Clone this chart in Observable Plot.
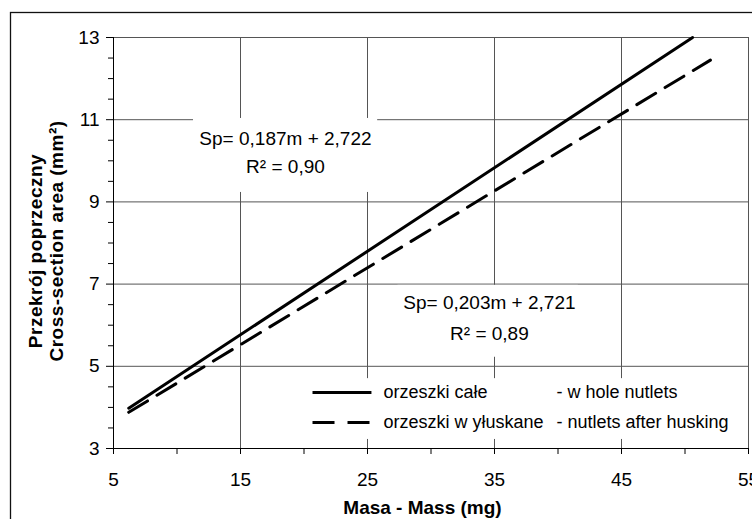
<!DOCTYPE html>
<html><head><meta charset="utf-8">
<script src="https://cdn.jsdelivr.net/npm/d3@7"></script>
<script src="https://cdn.jsdelivr.net/npm/@observablehq/plot@0.6"></script>
<style>
html,body{margin:0;padding:0;background:#fff;}
#chart{position:relative;width:752px;height:519px;overflow:hidden;}
</style></head><body><div id="chart"></div>
<script>
// ---- data ----
const massWhole = [6.2, 50.6];      // solid line (orzeszki całe)
const areaWhole = [3.98, 13.0];
const massHusked = [6.2, 52.0];     // dashed line (orzeszki wyłuskane)
const areaHusked = [3.88, 12.45];
const xTicks = [5, 15, 25, 35, 45, 55];
const xMinorTicks = [10, 20, 30, 40, 50];
const yTicks = [3, 5, 7, 9, 11, 13];
const yMinorTicks = [3.5, 4, 4.5, 5.5, 6, 6.5, 7.5, 8, 8.5, 9.5, 10, 10.5, 11.5, 12, 12.5];
const eqWhole = ["Sp= 0,203m + 2,721", "R² = 0,89"];
const eqHusked = ["Sp= 0,187m + 2,722", "R² = 0,90"];
const legendPolish = ["orzeszki całe", "orzeszki w yłuskane"];
const legendEnglish = ["- w hole nutlets", "- nutlets after husking"];
const xTitle = "Masa - Mass (mg)";
const yTitle = ["Przekrój poprzeczny", "Cross-section area (mm²)"];

// ---- layout (data units) ----
const eqPos = [{x: 18.54, y: [10.53, 9.84]}, {x: 34.6, y: [6.54, 5.79]}];
const boxes = [
  {x1: 11.3, x2: 25.8, y1: 9.23, y2: 11.03},
  {x1: 27.4, x2: 41.6, y1: 5.22, y2: 6.97},
  {x1: 19.7, x2: 54.8, y1: 3.22, y2: 4.70}
];
const legendRows = [4.36, 3.63];
const legendSample = [20.67, 25.31];
const legendTextX = [26.26, 39.88];

const font = "'Liberation Sans', Arial, sans-serif";
const whole = massWhole.map((m, i) => ({m, s: areaWhole[i]}));
const husked = massHusked.map((m, i) => ({m, s: areaHusked[i]}));
const eqTexts = [];
[eqHusked, eqWhole].forEach((eq, k) => eq.forEach((t, j) => eqTexts.push({t, x: eqPos[k].x, y: eqPos[k].y[j]})));
const legendTexts = [];
legendRows.forEach((y, i) => {
  legendTexts.push({t: legendPolish[i], x: legendTextX[0], y});
  legendTexts.push({t: legendEnglish[i], x: legendTextX[1], y});
});
const legendLines = legendRows.map((y, i) => ({x1: legendSample[0], x2: legendSample[1], y, dashed: i === 1}));

const plot = Plot.plot({
  width: 752, height: 519,
  marginLeft: 113, marginRight: 4, marginTop: 37, marginBottom: 71,
  x: {domain: [5, 55]},
  y: {domain: [3, 13]},
  style: {fontFamily: font, fontSize: "19px", color: "#000", background: "transparent", overflow: "visible"},
  marks: [
    Plot.gridX(xTicks, {stroke: "#555", strokeOpacity: 1}),
    Plot.gridY(yTicks, {stroke: "#555", strokeOpacity: 1}),
    Plot.rect(boxes, {x1: "x1", x2: "x2", y1: "y1", y2: "y2", fill: "white"}),
    Plot.ruleX([5], {stroke: "#000"}),
    Plot.ruleY([3], {stroke: "#000"}),
    Plot.axisY(yTicks, {tickSize: 7, tickPadding: 7, label: null, stroke: "#000"}),
    Plot.axisY(yMinorTicks, {tickSize: 5, tickFormat: () => "", label: null, stroke: "#000"}),
    Plot.axisX(xTicks, {tickSize: 6, tickPadding: 18, label: null, stroke: "#000"}),
    Plot.axisX(xMinorTicks, {tickSize: 6, tickFormat: () => "", label: null, stroke: "#000"}),
    Plot.line(whole, {x: "m", y: "s", stroke: "#000", strokeWidth: 3}),
    Plot.line(husked, {x: "m", y: "s", stroke: "#000", strokeWidth: 3, strokeDasharray: "22,11"}),
    Plot.text(eqTexts, {x: "x", y: "y", text: "t", fontSize: 19, fill: "#000", lineAnchor: "middle"}),
    Plot.link(legendLines.filter(d => !d.dashed), {x1: "x1", x2: "x2", y1: "y", y2: "y", stroke: "#000", strokeWidth: 3}),
    Plot.link(legendLines.filter(d => d.dashed), {x1: "x1", x2: "x2", y1: "y", y2: "y", stroke: "#000", strokeWidth: 3, strokeDasharray: "22,13"}),
    Plot.text(legendTexts, {x: "x", y: "y", text: "t", fontSize: 18, fill: "#000", textAnchor: "start", lineAnchor: "middle"}),
    Plot.text([xTitle], {frameAnchor: "bottom", dx: -8.5, dy: 59, text: d => d, fontSize: 19, fontWeight: "bold", lineAnchor: "middle", fill: "#000"})
  ]
});
const svg = d3.select(plot);
// y-axis title, two rotated lines
[[35, 251], [56, 241]].forEach(([cx, cy], i) => {
  svg.append("text")
    .attr("transform", `translate(${cx},${cy}) rotate(-90)`)
    .attr("text-anchor", "middle")
    .attr("dy", "0.36em")
    .attr("font-size", 19)
    .attr("font-weight", "bold")
    .attr("letter-spacing", "0.5px")
    .attr("fill", "#000")
    .text(yTitle[i]);
});
svg.append("rect")
  .attr("x", 10.5).attr("y", 12.5).attr("width", 780).attr("height", 540)
  .attr("fill", "none").attr("stroke", "#111").attr("stroke-width", 1.3);
document.getElementById("chart").appendChild(plot);
</script></body></html>
